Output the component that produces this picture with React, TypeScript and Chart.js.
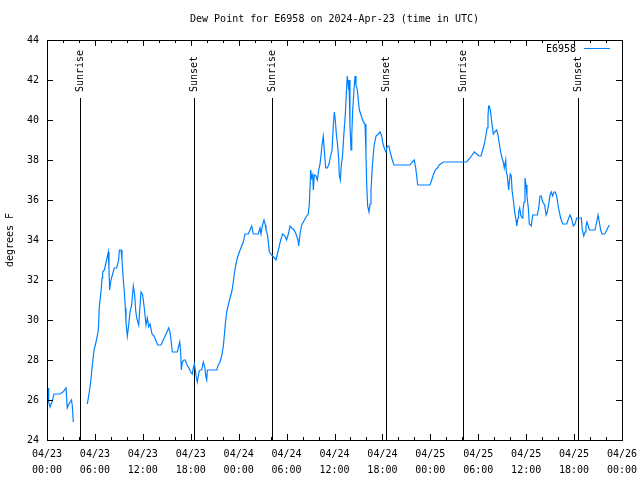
import React, { useEffect, useRef } from 'react';
import { Chart, registerables } from 'chart.js';

Chart.register(...registerables);

const FONT = '"DejaVu Sans Mono", "Liberation Mono", monospace';
const chartTitle = 'Dew Point for E6958 on 2024-Apr-23 (time in UTC)';
const seriesName = 'E6958';
const yAxisTitle = 'degrees F';
const dayLabels = ['04/23', '04/24', '04/25', '04/26'];
const xMinHours = 0;
const xMaxHours = 72;
const xStepHours = 6;
const yMin = 24;
const yMax = 44;
const yStep = 2;

// hours since 2024-04-23 00:00 UTC
const hours = [
  0.13, 0.21, 0.38, 0.63, 0.88, 1.63, 2.0, 2.38, 2.54, 2.75, 3.07, 3.17, 3.29,
  4.2,
  5.05, 5.26, 5.47, 5.68, 5.89, 6.14, 6.43, 6.55, 6.76, 6.89, 6.97, 7.18, 7.35, 7.6, 7.68, 7.76, 7.85,
  8.01, 8.22, 8.43, 8.72, 8.97, 9.06, 9.27, 9.39, 9.52, 9.68, 9.81, 9.89, 10.06, 10.23, 10.39, 10.6,
  10.81, 10.98, 11.1, 11.23, 11.48, 11.77, 11.98, 12.18, 12.4, 12.56, 12.73, 12.9, 13.15, 13.4, 13.61,
  13.86, 14.27, 14.56, 14.9, 15.24, 15.4, 15.53, 15.69, 16.32, 16.49, 16.62, 16.74, 16.82, 16.94,
  17.15, 17.32, 17.53, 17.78, 17.99, 18.19, 18.32, 18.45, 18.57, 18.66, 18.82, 19.03, 19.16, 19.37,
  19.57, 19.78, 19.87, 20.0, 20.08, 21.25, 21.45, 21.66, 21.87, 22.08, 22.2, 22.33, 22.5, 22.7, 22.92,
  23.13, 23.33, 23.45, 23.63, 23.83, 24.08, 24.38, 24.58, 24.79, 25.21, 25.42, 25.63, 25.83, 26.46,
  26.67, 26.8, 26.96, 27.17, 27.34, 27.42, 27.59, 27.71, 27.84, 28.14, 28.26, 28.68, 28.97, 29.26,
  29.51, 29.8, 30.0, 30.22, 30.43, 30.64, 30.93, 31.18, 31.43, 31.51, 31.68, 31.89, 32.1, 32.3, 32.52,
  32.72, 32.85, 33.02, 33.14, 33.27, 33.35, 33.47, 33.68, 33.85, 34.02, 34.19, 34.4, 34.52, 34.6,
  34.72, 34.9, 35.1, 35.31, 35.52, 35.69, 35.86, 35.98, 36.1, 36.23, 36.4, 36.53, 36.6, 36.73, 36.85,
  37.02, 37.19, 37.35, 37.48, 37.6, 37.73, 37.82, 37.94, 38.07, 38.16, 38.28, 38.44, 38.57, 38.69,
  38.86, 38.98, 39.11, 39.28, 39.44, 39.61, 39.82, 39.94, 40.03, 40.15, 40.32, 40.45, 40.57, 40.74,
  40.95, 41.2, 41.49, 41.7, 41.91, 42.07, 42.32, 42.45, 42.61, 42.82, 43.03, 43.24, 43.45, 45.45,
  45.74, 45.99, 46.17, 46.29, 46.42, 47.96, 48.17, 48.37, 48.62, 48.87, 49.12, 49.62, 52.55, 52.97,
  53.51, 53.8, 54.1, 54.35, 54.55, 54.76, 54.97, 55.1, 55.22, 55.3, 55.39, 55.51, 55.72, 55.89, 56.06,
  56.31, 56.47, 56.64, 56.81, 56.97, 57.14, 57.26, 57.44, 57.51, 57.64, 57.81, 57.89, 58.01, 58.14,
  58.23, 58.39, 58.56, 58.73, 58.82, 58.98, 59.06, 59.19, 59.32, 59.48, 59.6, 59.73, 59.85, 59.98,
  60.1, 60.27, 60.39, 60.64, 60.82, 61.4, 61.57, 61.73, 61.9, 62.07, 62.32, 62.49, 62.65, 62.82,
  62.99, 63.15, 63.32, 63.49, 63.65, 63.82, 63.99, 64.15, 64.32, 64.57, 65.07, 65.33, 65.49, 65.66,
  65.91, 66.12, 66.33, 66.91, 67.03, 67.21, 67.37, 67.49, 67.62, 67.78, 67.91, 68.62, 68.83, 69.0,
  69.16, 69.33, 69.5, 69.83, 70.09, 70.41,
];

const dewPoint = [
  26.6, 25.9, 25.65, 25.9, 26.3, 26.3, 26.4, 26.6, 25.6, 25.8, 26.0, 25.7, 24.9,
  null,
  25.8, 26.3, 26.9, 27.75, 28.5, 28.9, 29.5, 30.67, 31.4, 32.1, 32.4, 32.5, 32.8, 33.25, 33.4, 32.5, 31.5,
  32.0, 32.3, 32.6, 32.6, 33.0, 33.5, 33.5, 33.0, 32.2, 31.4, 30.6, 29.9, 29.2, 29.75, 30.4, 30.75,
  31.7, 31.25, 30.5, 30.1, 29.75, 31.4, 31.25, 30.6, 29.75, 30.1, 29.67, 29.8, 29.3, 29.2, 29.0,
  28.75, 28.75, 29.0, 29.3, 29.6, 29.4, 29.0, 28.4, 28.4, 28.7, 28.9, 28.4, 27.5, 27.9,
  28.0, 28.0, 27.75, 27.6, 27.4, 27.3, 27.6, 27.8, 27.5, 27.2, 26.9, 27.4, 27.5, 27.5,
  27.9, 27.6, 27.2, 27.0, 27.5, 27.5, 27.75, 27.9, 28.2, 28.7, 29.2, 29.8, 30.4, 30.75, 31.1,
  31.4, 31.9, 32.3, 32.75, 33.1, 33.4, 33.7, 33.9, 34.3, 34.3, 34.5, 34.7, 34.3, 34.3,
  34.6, 34.3, 34.7, 35.0, 34.75, 34.5, 34.3, 33.9, 33.4, 33.25, 33.2, 33.0, 33.5, 34.0,
  34.3, 34.2, 34.0, 34.3, 34.7, 34.6, 34.5, 34.3, 34.0, 33.7, 34.3, 34.75, 34.9, 35.05, 35.2,
  35.3, 35.8, 37.5, 37.1, 37.25, 36.5, 37.25, 37.2, 37.0, 37.5, 37.8, 38.6, 39.0, 39.2,
  38.5, 37.6, 37.6, 37.8, 38.2, 38.5, 39.8, 40.4, 40.0, 39.3, 38.7, 38.0, 37.25, 37.0, 37.7,
  38.3, 39.4, 40.25, 41.3, 42.2, 41.7, 42.0, 39.7, 38.5, 39.2, 40.5, 41.5, 42.2, 41.75,
  41.5, 41.0, 40.5, 40.3, 40.1, 39.9, 39.8, 38.3, 36.8, 35.7, 35.4, 35.8, 36.5, 37.7,
  38.7, 39.2, 39.3, 39.4, 39.2, 38.8, 38.5, 38.4, 38.7, 38.7, 38.3, 38.0, 37.75, 37.75,
  37.9, 38.0, 37.6, 37.2, 36.75, 36.75, 37.0, 37.25, 37.5, 37.6, 37.75, 37.9, 37.9, 38.1,
  38.4, 38.3, 38.2, 38.2, 38.5, 38.8, 39.25, 39.6, 40.2, 40.7, 40.7, 40.5, 39.8, 39.3, 39.4,
  39.5, 39.25, 38.8, 38.4, 38.1, 37.9, 37.6, 38.0, 37.4, 37.2, 36.5, 36.9, 37.3, 37.2,
  36.5, 36.0, 35.4, 35.0, 34.7, 35.1, 35.4, 35.6, 35.25, 35.1, 35.5, 35.9, 37.1, 36.75,
  36.2, 35.6, 34.8, 34.7, 35.25, 35.25, 35.6, 36.2, 36.2, 35.9, 35.75, 35.25, 35.4, 35.8,
  36.25, 36.4, 36.2, 36.4, 36.4, 36.2, 35.75, 35.4, 35.1, 34.8, 34.8, 35.1, 35.25, 35.1,
  34.7, 34.8, 35.1, 35.1, 34.5, 34.2, 34.4, 34.7, 34.9, 34.7, 34.5, 34.5, 34.9, 35.25,
  34.9, 34.5, 34.3, 34.3, 34.5, 34.75,
];

const sunHours = [4.15, 18.45, 28.2, 42.48, 52.13, 66.52];
const sunLabels = ['Sunrise', 'Sunset', 'Sunrise', 'Sunset', 'Sunrise', 'Sunset'];

const lineColor = 'rgb(0, 128, 255)';

const gnuplotDecor = {
  id: 'gnuplotDecor',
  beforeDatasetsDraw(chart: any) {
    const { ctx, chartArea, scales } = chart;
    const xs = scales.x;
    ctx.save();
    ctx.strokeStyle = '#000';
    ctx.lineWidth = 1;
    ctx.fillStyle = '#000';
    ctx.font = `10px ${FONT}`;
    sunHours.forEach((h, i) => {
      const x = Math.round(xs.getPixelForValue(h)) + 0.5;
      ctx.beginPath();
      ctx.moveTo(x, chartArea.top + 58);
      ctx.lineTo(x, chartArea.bottom);
      ctx.stroke();
      ctx.save();
      ctx.translate(x, chartArea.top + 52);
      ctx.rotate(-Math.PI / 2);
      ctx.textAlign = 'left';
      ctx.textBaseline = 'middle';
      ctx.fillText(sunLabels[i], 0, 0);
      ctx.restore();
    });
    ctx.restore();
  },
  afterDraw(chart: any) {
    const { ctx, chartArea, scales } = chart;
    const xs = scales.x;
    const ys = scales.y;
    const { left, right, top, bottom } = chartArea;
    ctx.save();
    ctx.strokeStyle = '#000';
    ctx.lineWidth = 1;
    ctx.beginPath();
    for (let h = xMinHours; h <= xMaxHours; h += 2) {
      const x = Math.round(xs.getPixelForValue(h)) + 0.5;
      const len = h % xStepHours === 0 ? 6 : 3;
      ctx.moveTo(x, bottom);
      ctx.lineTo(x, bottom - len);
      ctx.moveTo(x, top);
      ctx.lineTo(x, top + len);
    }
    for (let v = yMin; v <= yMax; v += yStep) {
      const y = Math.round(ys.getPixelForValue(v)) + 0.5;
      ctx.moveTo(left, y);
      ctx.lineTo(left + 6, y);
      ctx.moveTo(right, y);
      ctx.lineTo(right - 6, y);
    }
    ctx.stroke();
    ctx.strokeRect(Math.round(left) + 0.5, Math.round(top) + 0.5, Math.round(right - left), Math.round(bottom - top));
    ctx.fillStyle = '#000';
    ctx.font = `10px ${FONT}`;
    ctx.textAlign = 'center';
    ctx.textBaseline = 'middle';
    ctx.fillText(chartTitle, (left + right) / 2, 19);
    ctx.textAlign = 'right';
    ctx.fillText(seriesName, right - 46, top + 9);
    ctx.strokeStyle = lineColor;
    ctx.beginPath();
    ctx.moveTo(right - 38, top + 8.5);
    ctx.lineTo(right - 12, top + 8.5);
    ctx.stroke();
    ctx.restore();
  },
};

export default function App() {
  const canvasRef = useRef<HTMLCanvasElement | null>(null);

  useEffect(() => {
    const canvas = canvasRef.current;
    if (!canvas) return;
    const points = hours.map((h, i) => ({ x: h, y: dewPoint[i] }));
    const chart = new Chart(canvas, {
      type: 'line',
      data: {
        datasets: [
          {
            label: seriesName,
            data: points as any,
            borderColor: lineColor,
            backgroundColor: lineColor,
            borderWidth: 1.2,
            pointRadius: 0,
            tension: 0,
            spanGaps: false,
          },
        ],
      },
      options: {
        animation: false,
        responsive: false,
        events: [],
        layout: { padding: { left: 0, top: 40, right: 18, bottom: 0 } },
        plugins: {
          legend: { display: false },
          title: { display: false },
          tooltip: { enabled: false },
        },
        scales: {
          x: {
            type: 'linear',
            min: xMinHours,
            max: xMaxHours,
            grid: { display: false, drawTicks: false },
            border: { display: false },
            afterFit: (s: any) => {
              s.height = 40;
              s.paddingLeft = 0;
              s.paddingRight = 0;
            },
            ticks: {
              stepSize: xStepHours,
              autoSkip: false,
              maxRotation: 0,
              minRotation: 0,
              padding: 7,
              color: '#000',
              font: { family: FONT, size: 10, lineHeight: 1.55 },
              callback: (value: any) => {
                const h = Math.round(Number(value));
                const d = Math.floor(h / 24);
                const hh = h % 24;
                return [dayLabels[d], String(hh).padStart(2, '0') + ':00'];
              },
            },
          },
          y: {
            type: 'linear',
            min: yMin,
            max: yMax,
            grid: { display: false, drawTicks: false },
            border: { display: false },
            afterFit: (s: any) => {
              s.width = 47;
            },
            title: {
              display: true,
              text: yAxisTitle,
              color: '#000',
              font: { family: FONT, size: 10 },
              padding: { top: 4, bottom: 0 },
            },
            ticks: {
              stepSize: yStep,
              padding: 8,
              color: '#000',
              font: { family: FONT, size: 10 },
            },
          },
        },
      },
      plugins: [gnuplotDecor],
    });
    return () => chart.destroy();
  }, []);

  return (
    <div style={{ position: 'absolute', left: 0, top: 0, width: 640, height: 480, background: '#fff' }}>
      <canvas ref={canvasRef} width={640} height={480} style={{ display: 'block' }} />
    </div>
  );
}
